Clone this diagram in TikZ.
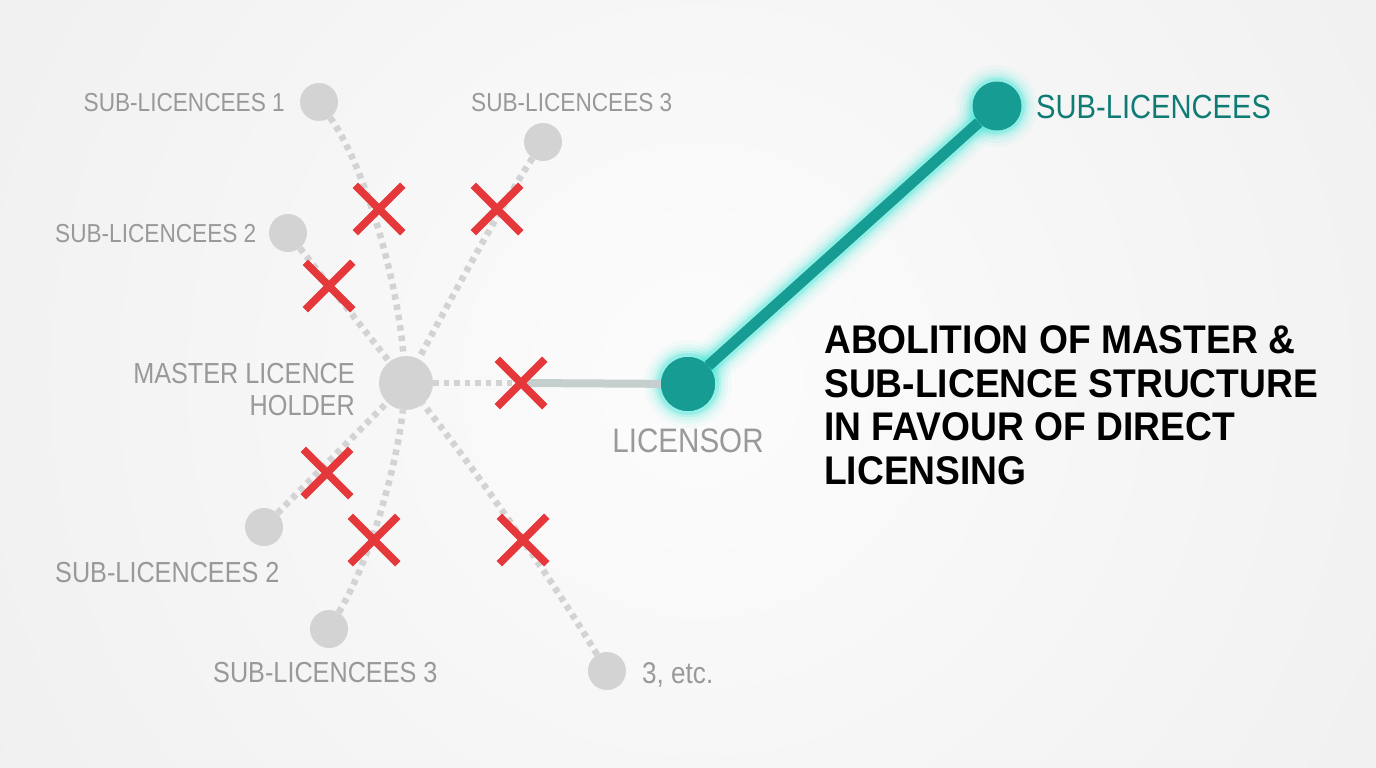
\documentclass[tikz,border=0pt]{standalone}
\usepackage{fontspec}
\setmainfont{Liberation Sans}
\newfontfamily\condf[FakeStretch=0.87]{Liberation Sans}
\newfontfamily\titlef[FakeStretch=0.93]{Liberation Sans}
\usetikzlibrary{shapes.misc}
\definecolor{bgc}{HTML}{E9E9E9}
\definecolor{bgin}{HTML}{FCFCFC}
\definecolor{dotgray}{HTML}{D3D3D3}
\definecolor{labgray}{HTML}{999999}
\definecolor{tealdot}{HTML}{179C93}
\definecolor{tealtxt}{HTML}{0E7C75}
\definecolor{glowc}{HTML}{3DE8D8}
\definecolor{xred}{HTML}{E5383B}
\definecolor{linkgray}{HTML}{C4CFCE}
\begin{document}
\begin{tikzpicture}[x=1pt,y=-1pt,
  dotnode/.style={circle,fill=dotgray,minimum size=38pt,inner sep=0},
  hubnode/.style={circle,fill=dotgray,minimum size=54pt,inner sep=0},
  tealnode/.style={circle,fill=tealdot,minimum size=#1,inner sep=0},
  dashlink/.style={draw=dotgray,line width=6.5pt,dash pattern=on 5.5pt off 5pt},
  solidlink/.style={draw=linkgray,line width=8pt},
  teallink/.style={draw=tealdot,line width=11pt},
  xmark/.style={cross out,draw=xred,line width=7.5pt,minimum size=40pt,inner sep=0},
  lab/.style={text=labgray,inner sep=0,font=\condf\fontsize{#1}{#1}\selectfont},
  lab/.default=26
]
\useasboundingbox (0,0) rectangle (1376,768);
\fill[bgc] (0,0) rectangle (1376,768);
\begin{scope}
\clip (0,0) rectangle (1376,768);
\shade[inner color=bgin,outer color=bgc] (700,380) circle[radius=1300];
\end{scope}

% nodes
\node[hubnode] (hub) at (406,383) {};
\node[dotnode] (s1) at (319,102) {};
\node[dotnode] (s3t) at (543,142) {};
\node[dotnode] (s2u) at (288,233) {};
\node[dotnode] (s2l) at (264,527) {};
\node[dotnode] (s3l) at (329,629) {};
\node[dotnode] (etc) at (607,671) {};

% X positions
\coordinate (c1) at (379,209);
\coordinate (c2) at (497,209);
\coordinate (c3) at (329,286);
\coordinate (c4) at (521,383);
\coordinate (c5) at (327,473);
\coordinate (c6) at (374,540);
\coordinate (c7) at (523,540);

% glow
\coordinate (licc) at (688,384);
\coordinate (slc) at (997,106);
\foreach \w/\o in {44/0.05,36/0.07,29/0.1,23/0.16,18/0.28}{
  \draw[glowc,opacity=\o,line width=\w pt,line cap=round] (licc) -- (slc);
  \fill[glowc,opacity=\o] (licc) circle[radius=27+\w/2-5];
  \fill[glowc,opacity=\o] (slc) circle[radius=24+\w/2-5];
}

% links
\draw[dashlink] (s1) .. controls (362,162) and (396,270) .. (hub);
\draw[dashlink] (s3t) .. controls (505,200) and (450,300) .. (hub);
\draw[dashlink] (s2u) -- (hub);
\draw[dashlink] (s2l) .. controls (320,470) and (370,420) .. (hub);
\draw[dashlink] (s3l) .. controls (370,560) and (396,470) .. (hub);
\draw[dashlink] (etc) .. controls (540,560) and (460,450) .. (hub);
\draw[dashlink] (hub) -- (c4);

\node[tealnode=54pt] (lic) at (licc) {};
\node[tealnode=49pt] (sl) at (slc) {};
\draw[solidlink] (c4) -- (lic);
\draw[teallink] (lic) -- (sl);
\node[tealnode=54pt] at (licc) {};

% red crosses
\node[xmark] (x1) at (c1) {};
\node[xmark] (x2) at (c2) {};
\node[xmark] (x3) at (c3) {};
\node[xmark] (x4) at (c4) {};
\node[xmark] (x5) at (c5) {};
\node[xmark] (x6) at (c6) {};
\node[xmark] (x7) at (c7) {};

% labels
\node[lab,anchor=base east] (t1) at (285,111.3) {SUB-LICENCEES 1};
\node[lab,anchor=base west] (t3t) at (471,111.3) {SUB-LICENCEES 3};
\node[lab,anchor=base west] (t2u) at (55,242.3) {SUB-LICENCEES 2};
\node[text=labgray,inner sep=0,anchor=north east,align=right,
  font=\condf\fontsize{29}{32}\selectfont] (tm) at (355,362.6) {MASTER LICENCE\\HOLDER};
\node[lab=34,anchor=base] (tl) at (688,452.2) {LICENSOR};
\node[lab=29,anchor=base west] (t2l) at (55,582.4) {SUB-LICENCEES 2};
\node[lab=29,anchor=base west] (t3l) at (213,682.4) {SUB-LICENCEES 3};
\node[lab=30,anchor=base west] (te) at (642,683.7) {3, etc.};
\node[text=tealtxt,inner sep=0,anchor=base west,
  font=\condf\fontsize{33.5}{33.5}\selectfont] (ts) at (1036,118) {SUB-LICENCEES};
\node[text=black,inner sep=0,anchor=north west,align=left,
  font=\titlef\bfseries\fontsize{40}{43.5}\selectfont] (title) at (824,325.7)
  {ABOLITION OF MASTER \&\\SUB-LICENCE STRUCTURE\\IN FAVOUR OF DIRECT\\LICENSING};
\end{tikzpicture}
\end{document}
